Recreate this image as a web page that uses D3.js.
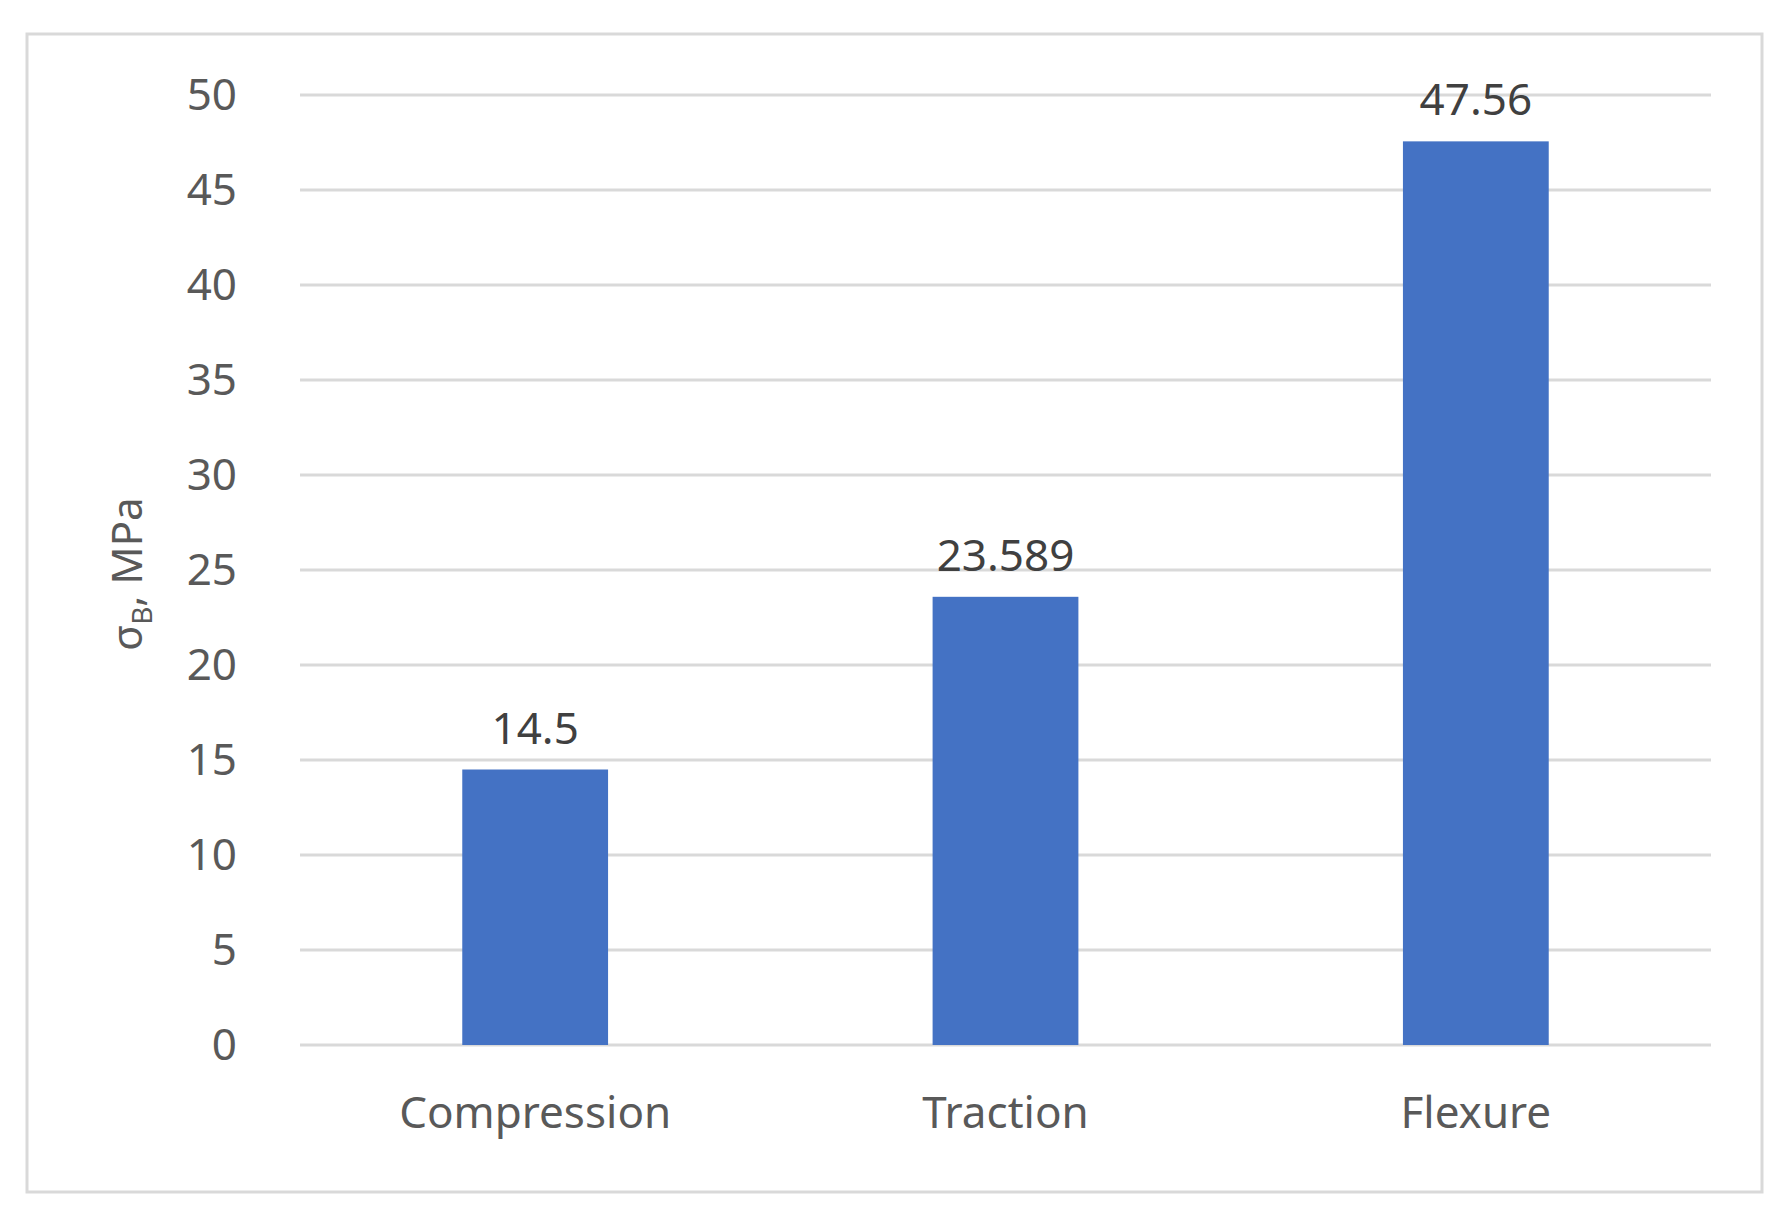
<!DOCTYPE html>
<html>
<head>
<meta charset="utf-8">
<script src="https://cdn.jsdelivr.net/npm/d3@7"></script>
<style>
body { margin:0; background:#fff; }
</style>
</head>
<body>
<svg></svg>
<script>
var categories = ['Compression', 'Traction', 'Flexure'];
var values = [14.5, 23.589, 47.56];
var labels = ['14.5', '23.589', '47.56'];
var yTicks = [0, 5, 10, 15, 20, 25, 30, 35, 40, 45, 50];

var svgWidth = 1792, svgHeight = 1227;
var margin = { top:95, right:81, bottom:182, left:300 };
var width = svgWidth - margin.left - margin.right;
var height = svgHeight - margin.top - margin.bottom;
var font = '"Noto Sans", "Open Sans", sans-serif';

var svg = d3.select('svg')
    .attr('width', svgWidth)
    .attr('height', svgHeight);

svg.append('rect')
    .attr('x', 27).attr('y', 34)
    .attr('width', 1735).attr('height', 1158)
    .attr('fill', '#fff')
    .attr('stroke', '#d9d9d9')
    .attr('stroke-width', 3);

var g = svg.append('g')
    .attr('transform', 'translate(' + margin.left + ',' + margin.top + ')');

var x = d3.scaleBand().domain(categories).range([0, width]).paddingInner(0.69).paddingOuter(0.345);
var y = d3.scaleLinear().domain([0, 50]).range([height, 0]);

// gridlines
g.selectAll('.grid')
    .data(yTicks)
    .enter()
    .append('line')
    .attr('x1', 0).attr('x2', width)
    .attr('y1', function(d){ return y(d); })
    .attr('y2', function(d){ return y(d); })
    .attr('stroke', '#d9d9d9')
    .attr('stroke-width', 3);

var yAxis = g.append('g')
    .call(d3.axisLeft(y).tickValues(yTicks).tickSize(0).tickPadding(63));
yAxis.select('.domain').remove();
yAxis.selectAll('text')
    .attr('fill', '#595959')
    .style('font-family', font)
    .style('font-size', '44px');

var xAxis = g.append('g')
    .attr('transform', 'translate(0,' + height + ')')
    .call(d3.axisBottom(x).tickSize(0).tickPadding(52));
xAxis.select('.domain').remove();
xAxis.selectAll('text')
    .attr('fill', '#595959')
    .style('font-family', font)
    .style('font-size', '44px');

g.selectAll('.bar')
    .data(values)
    .enter()
    .append('rect')
    .attr('x', function(d, i){ return x(categories[i]); })
    .attr('y', function(d){ return y(d); })
    .attr('width', x.bandwidth())
    .attr('height', function(d){ return height - y(d); })
    .attr('fill', '#4472c4');

g.selectAll('.val')
    .data(values)
    .enter()
    .append('text')
    .attr('x', function(d, i){ return x(categories[i]) + x.bandwidth() / 2; })
    .attr('y', function(d){ return y(d) - 26; })
    .attr('text-anchor', 'middle')
    .attr('fill', '#404040')
    .style('font-family', font)
    .style('font-size', '44px')
    .text(function(d, i){ return labels[i]; });

var title = svg.append('text')
    .attr('transform', 'translate(142,' + (margin.top + height / 2 + 4) + ') rotate(-90)')
    .attr('text-anchor', 'middle')
    .attr('fill', '#595959')
    .style('font-family', font)
    .style('font-size', '42px');
title.append('tspan').text('σ');
title.append('tspan').attr('dy', 10).style('font-size', '28px').text('B');
title.append('tspan').attr('dy', -10).text(', MPa');
</script>
</body>
</html>
